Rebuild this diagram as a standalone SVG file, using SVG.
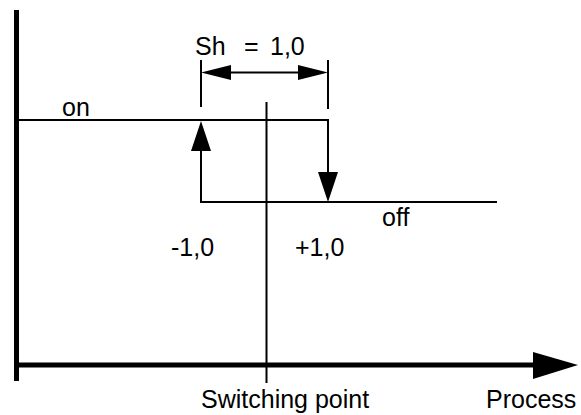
<svg xmlns="http://www.w3.org/2000/svg" width="581" height="415" viewBox="0 0 581 415">
<style>
text{font-family:"Liberation Sans",Arial,sans-serif;font-size:25px;fill:#000}
.ln{stroke:#000;stroke-width:2;fill:none}
.ax{stroke:#000;stroke-width:5;fill:none}
.hd{fill:#000;stroke:none}
</style>
<rect width="581" height="415" fill="#fff"/>
<g id="axes">
<line class="ax" x1="16.5" y1="10" x2="16.5" y2="381"/>
<line class="ax" x1="16" y1="365" x2="536" y2="365"/>
<polygon class="hd" points="533,352 578,365 533,379"/>
</g>
<g id="connectors">
<line class="ln" x1="16" y1="120" x2="329" y2="120"/>
<line class="ln" x1="328" y1="120" x2="328" y2="175"/>
<polygon class="hd" points="318,172 338,172 328,202"/>
<line class="ln" x1="200" y1="202" x2="497" y2="202"/>
<line class="ln" x1="201" y1="202" x2="201" y2="148"/>
<polygon class="hd" points="191,151 211,151 201,121"/>
<line class="ln" x1="266.5" y1="102" x2="266.5" y2="383"/>
</g>
<g id="dimension">
<line class="ln" x1="201" y1="60" x2="201" y2="107"/>
<line class="ln" x1="328" y1="60" x2="328" y2="109"/>
<line class="ln" x1="225" y1="72.5" x2="305" y2="72.5"/>
<polygon class="hd" points="201,72.5 231,65 231,80"/>
<polygon class="hd" points="328,72.5 298,65 298,80"/>
<text x="195" y="55">Sh</text>
<text x="244" y="55">=</text>
<text x="270" y="55">1,0</text>
</g>
<g id="labels">
<text x="62" y="116">on</text>
<text x="382" y="226">off</text>
<text x="171" y="256">-1,0</text>
<text x="295" y="256">+1,0</text>
<text x="201" y="408">Switching point</text>
<text x="486" y="408">Process</text>
</g>
</svg>
